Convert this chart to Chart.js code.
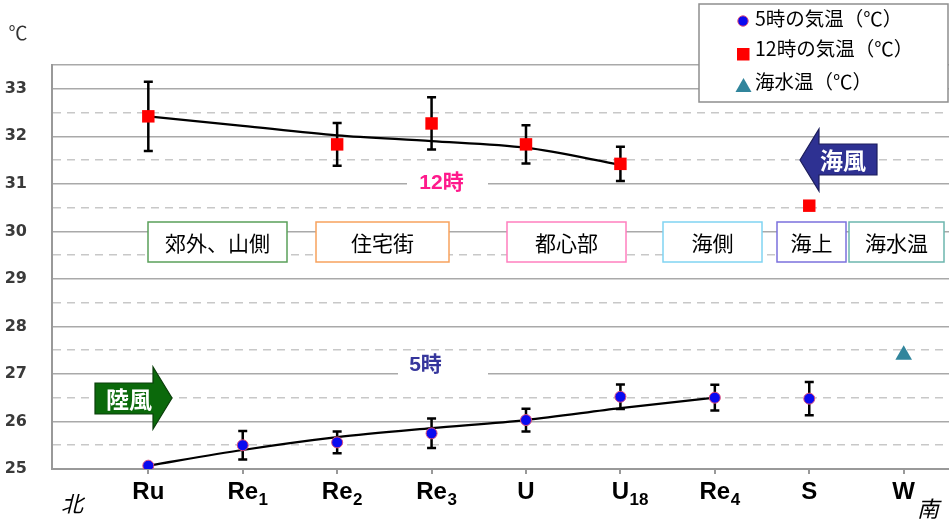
<!DOCTYPE html>
<html>
<head>
<meta charset="utf-8">
<script src="https://cdn.jsdelivr.net/npm/chart.js@4"></script>
<style>
  html, body { margin: 0; padding: 0; background: #ffffff; }
  #wrap { width: 949px; height: 523px; position: relative; }
</style>
</head>
<body>
<div id="wrap"><canvas id="c" width="949" height="523"></canvas></div>
<script>
// Observation sites from north (left) to south (right)
const stationMain = ['Ru', 'Re', 'Re', 'Re', 'U', 'U', 'Re', 'S', 'W'];
const stationSub  = ['',   '1',  '2',  '3',  '',  '18', '4',  '',  ''];

// 05:00 air temperature, its spread and the smoothed trend
const temp5  = [25.07, 25.50, 25.56, 25.75, 26.03, 26.52, 26.50, 26.48, null];
const err5   = [null,  0.30,  0.23,  0.31,  0.24,  0.26,  0.27,  0.35,  null];
const trend5 = [25.07, 25.40, 25.67, 25.86, 26.03, 26.28, 26.50, null,  null];

// 12:00 air temperature, its spread and the smoothed trend
const temp12  = [32.42, null,  31.83, 32.27, 31.83, 31.42, null, 30.54, null];
const err12   = [0.73,  null,  0.45,  0.55,  0.40,  0.36,  null, null,  null];
const trend12 = [32.42, 32.22, 32.02, 31.90, 31.76, 31.40, null, null,  null];

// Sea water temperature
const seaTemp = [null, null, null, null, null, null, null, null, 27.4];

// Temperature axis
const yMin = 25, yMax = 33.5, yStep = 0.5;

// Area labels along the route
const areaLabels  = ['郊外、山側', '住宅街', '都心部', '海側', '海上', '海水温'];
const areaColors  = ['#5aa05a', '#f7a25e', '#ff7fbf', '#80d4f2', '#7b70dd', '#6cb6ae'];

const legendNames = ['5時の気温（℃）', '12時の気温（℃）', '海水温（℃）'];

const toPoints = arr => arr.map((v, i) => ({ x: i, y: v }));

const FONT_CJK = '"Noto Sans CJK JP", "Noto Sans", sans-serif';
const FONT_LAT = '"Liberation Sans", Arial, "Noto Sans CJK JP", sans-serif';

// Vertical error bars around the 5時 / 12時 points
const errorBars = {
  id: 'errorBars',
  beforeDatasetsDraw(chart) {
    const { ctx, scales: { x, y } } = chart;
    const sets = [[temp5, err5], [temp12, err12]];
    ctx.save();
    ctx.strokeStyle = '#000000';
    ctx.lineWidth = 2.5;
    ctx.lineCap = 'butt';
    sets.forEach(([vals, errs]) => {
      vals.forEach((v, i) => {
        if (v == null || errs[i] == null) return;
        const px = x.getPixelForValue(i);
        const top = y.getPixelForValue(v + errs[i]);
        const bot = y.getPixelForValue(v - errs[i]);
        ctx.beginPath();
        ctx.moveTo(px, top); ctx.lineTo(px, bot);
        ctx.moveTo(px - 4.5, top); ctx.lineTo(px + 4.5, top);
        ctx.moveTo(px - 4.5, bot); ctx.lineTo(px + 4.5, bot);
        ctx.stroke();
      });
    });
    ctx.restore();
  }
};

// Block arrow pointing right: body from x0 to x1, head from x1 to xTip
function drawArrowRight(ctx, x0, x1, xTip, yTop, yBot, hTop, hBot, fill, edge) {
  const yc = (hTop + hBot) / 2;
  ctx.beginPath();
  ctx.moveTo(x0, yTop);
  ctx.lineTo(x1, yTop);
  ctx.lineTo(x1, hTop);
  ctx.lineTo(xTip, yc);
  ctx.lineTo(x1, hBot);
  ctx.lineTo(x1, yBot);
  ctx.lineTo(x0, yBot);
  ctx.closePath();
  ctx.fillStyle = fill;
  ctx.fill();
  ctx.strokeStyle = edge;
  ctx.lineWidth = 1.2;
  ctx.stroke();
}

function drawSkewedText(ctx, text, cx, cy, font, color) {
  ctx.save();
  ctx.translate(cx, cy);
  ctx.transform(1, 0, -0.25, 1, 0, 0);
  ctx.font = font;
  ctx.fillStyle = color;
  ctx.textAlign = 'center';
  ctx.textBaseline = 'middle';
  ctx.fillText(text, 0, 0);
  ctx.restore();
}

// Station labels, direction marks, area boxes, wind arrows and legend
const decorations = {
  id: 'decorations',
  afterDraw(chart) {
    const { ctx, scales: { x, y } } = chart;
    ctx.save();

    // unit
    ctx.font = '19px ' + FONT_CJK;
    ctx.fillStyle = '#333333';
    ctx.textAlign = 'center';
    ctx.textBaseline = 'middle';
    ctx.fillText('℃', 18, 33);

    // station labels with subscripts
    stationMain.forEach((m, i) => {
      const px = x.getPixelForValue(i);
      ctx.font = 'bold 24px ' + FONT_LAT;
      const mw = ctx.measureText(m).width;
      ctx.textAlign = 'left';
      ctx.textBaseline = 'alphabetic';
      ctx.fillStyle = '#000000';
      const sx = px - mw / 2;
      ctx.fillText(m, sx, 499);
      if (stationSub[i]) {
        ctx.font = 'bold 17px ' + FONT_LAT;
        ctx.fillText(stationSub[i], sx + mw + 0.5, 505);
      }
    });

    // north / south
    drawSkewedText(ctx, '北', 74, 504, '22px ' + FONT_CJK, '#000000');
    drawSkewedText(ctx, '南', 930, 509, '22px ' + FONT_CJK, '#000000');

    // area boxes
    const boxes = [[148, 287], [316, 449], [507, 626], [663, 762], [777, 846], [849, 944]];
    boxes.forEach(([l, r], k) => {
      ctx.fillStyle = '#ffffff';
      ctx.fillRect(l, 222, r - l, 40);
      ctx.strokeStyle = areaColors[k];
      ctx.lineWidth = 1.5;
      ctx.strokeRect(l, 222, r - l, 40);
      ctx.font = '21px ' + FONT_CJK;
      ctx.fillStyle = '#000000';
      ctx.textAlign = 'center';
      ctx.textBaseline = 'middle';
      ctx.fillText(areaLabels[k], (l + r) / 2, 243);
    });

    // time labels
    ctx.fillStyle = '#ffffff';
    ctx.fillRect(407, 171, 81, 24);
    ctx.fillRect(398, 353, 90, 24);
    ctx.font = 'bold 21px ' + FONT_LAT;
    ctx.textAlign = 'center';
    ctx.textBaseline = 'middle';
    ctx.fillStyle = '#ff1a8c';
    ctx.fillText('12時', 441.5, 183);
    ctx.fillStyle = '#36369c';
    ctx.fillText('5時', 425.5, 365);

    // land breeze (to the south)
    drawArrowRight(ctx, 95, 153, 172, 383, 414, 367, 429, '#0b690b', '#0a3f0a');
    ctx.font = 'bold 23px ' + FONT_CJK;
    ctx.fillStyle = '#ffffff';
    ctx.fillText('陸風', 129, 399);

    // sea breeze (to the north): the same arrow mirrored about x = 877
    ctx.save();
    ctx.translate(877, 0);
    ctx.scale(-1, 1);
    drawArrowRight(ctx, 0, 58, 77, 144, 175, 129, 191, '#2e3192', '#1c1d5c');
    ctx.restore();
    ctx.font = 'bold 23px ' + FONT_CJK;
    ctx.fillStyle = '#ffffff';
    ctx.textAlign = 'center';
    ctx.textBaseline = 'middle';
    ctx.fillText('海風', 843, 160);

    // legend
    ctx.fillStyle = '#ffffff';
    ctx.fillRect(699, 4, 249, 98);
    ctx.strokeStyle = '#8e8e8e';
    ctx.lineWidth = 1.5;
    ctx.strokeRect(699, 4, 249, 98);
    const rows = [18.5, 49, 81.5];
    const ds = chart.data.datasets;
    // circle
    ctx.beginPath();
    ctx.arc(743, 21, 5.2, 0, Math.PI * 2);
    ctx.fillStyle = ds[0].backgroundColor;
    ctx.fill();
    ctx.strokeStyle = ds[0].borderColor;
    ctx.lineWidth = 1;
    ctx.stroke();
    // square
    ctx.fillStyle = ds[1].backgroundColor;
    ctx.fillRect(737, 48, 12.5, 12.5);
    // triangle
    ctx.beginPath();
    ctx.moveTo(743.5, 78);
    ctx.lineTo(751.5, 92);
    ctx.lineTo(735.5, 92);
    ctx.closePath();
    ctx.fillStyle = ds[2].backgroundColor;
    ctx.fill();
    ctx.font = '19.5px ' + FONT_CJK;
    ctx.fillStyle = '#000000';
    ctx.textAlign = 'left';
    ctx.textBaseline = 'middle';
    legendNames.forEach((t, k) => ctx.fillText(t, 755, rows[k]));

    ctx.restore();
  }
};

const isDashed = v => Math.abs(v - Math.round(v)) > 1e-6 && v < yMax - 1e-6;

new Chart(document.getElementById('c'), {
  type: 'line',
  data: {
    datasets: [
      {
        label: legendNames[0], data: toPoints(temp5), showLine: false,
        pointStyle: 'circle', pointRadius: 5.5, pointHoverRadius: 5.5,
        backgroundColor: '#0a0af0', borderColor: '#e0507a', pointBorderWidth: 1
      },
      {
        label: legendNames[1], data: toPoints(temp12), showLine: false,
        pointStyle: 'rect', pointRadius: 8.8, pointHoverRadius: 8.8,
        backgroundColor: '#ff0000', borderColor: '#ff0000', pointBorderWidth: 0
      },
      {
        label: legendNames[2], data: toPoints(seaTemp), showLine: false,
        pointStyle: 'triangle', pointRadius: 9.6, pointHoverRadius: 9.6,
        backgroundColor: '#31859c', borderColor: '#31859c', pointBorderWidth: 0
      },
      {
        label: '5時の傾向', data: toPoints(trend5), borderColor: '#000000',
        borderWidth: 2.2, pointRadius: 0, tension: 0.3, fill: false
      },
      {
        label: '12時の傾向', data: toPoints(trend12), borderColor: '#000000',
        borderWidth: 2.2, pointRadius: 0, tension: 0.3, fill: false
      }
    ]
  },
  options: {
    responsive: false,
    animation: false,
    devicePixelRatio: 1,
    layout: { autoPadding: false, padding: { top: 65, left: 5, right: 0, bottom: 49 } },
    plugins: { legend: { display: false }, tooltip: { enabled: false } },
    scales: {
      x: {
        type: 'linear', min: -1.02, max: 8.48,
        afterBuildTicks: s => { s.ticks = stationMain.map((_, i) => ({ value: i })); },
        afterFit: s => { s.height = 5; },
        ticks: { display: false },
        grid: { drawOnChartArea: false, drawTicks: true, tickLength: 5, color: '#999999', lineWidth: 2 },
        border: { display: true, color: '#999999', width: 2 }
      },
      y: {
        type: 'linear', min: yMin, max: yMax,
        afterFit: s => { s.width = 47; },
        ticks: {
          stepSize: yStep,
          padding: 25,
          color: '#3a3a3a',
          font: { family: '"DejaVu Sans", Verdana, sans-serif', size: 16, weight: 'bold' },
          callback: v => (Math.abs(v - Math.round(v)) < 1e-6 ? String(Math.round(v)) : '')
        },
        grid: {
          drawTicks: false,
          lineWidth: 1.5,
          color: c => (c.tick && isDashed(c.tick.value)) ? '#c8c8c8' : '#a9a9a9'
        },
        border: {
          display: true, color: '#999999', width: 2,
          dash: c => (c.tick && isDashed(c.tick.value)) ? [8, 6] : []
        }
      }
    }
  },
  plugins: [errorBars, decorations]
});
</script>
</body>
</html>
